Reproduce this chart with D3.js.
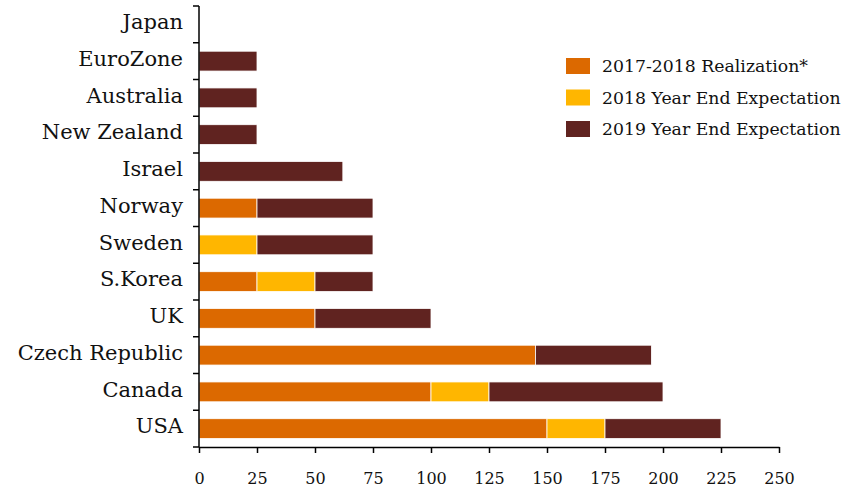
<!DOCTYPE html>
<html>
<head>
<meta charset="utf-8">
<script src="https://cdn.jsdelivr.net/npm/d3@7"></script>
<style>
  body { margin: 0; background: #fff; }
  text { font-family: "DejaVu Serif", "Liberation Serif", serif; fill: #111; }
</style>
</head>
<body>
<div id="chart"></div>
<script>
var width = 853,
    height = 496;

// data, top row first
var countries = ["Japan", "EuroZone", "Australia", "New Zealand", "Israel", "Norway",
  "Sweden", "S.Korea", "UK", "Czech Republic", "Canada", "USA"];
var realization = [0, 0, 0, 0, 0, 25, 0, 25, 50, 145, 100, 150];
var expect2018 = [0, 0, 0, 0, 0, 0, 25, 25, 0, 0, 25, 25];
var expect2019 = [0, 25, 25, 25, 62, 50, 50, 25, 50, 50, 75, 50];
var seriesNames = ["2017-2018 Realization*", "2018 Year End Expectation", "2019 Year End Expectation"];
var seriesColors = ["#dc6900", "#ffb600", "#602320"];
var xTicks = [0, 25, 50, 75, 100, 125, 150, 175, 200, 225, 250];

var svg = d3.select('#chart').append('svg')
    .attr('width', width)
    .attr('height', height);

var mLeft = 199, mRight = 779, mTop = 6, mBottom = 447;

let scaleX = d3.scaleLinear().domain([0, 250]).range([mLeft, mRight]);
let scaleY = d3.scaleBand().domain(countries).range([mTop, mBottom]).padding(0);
let barH = scaleY.bandwidth() * 0.54;

// stack the three series
let rows = countries.map((c, i) => {
    return {country: c, vals: [realization[i], expect2018[i], expect2019[i]]};
});
let segs = [];
rows.forEach(r => {
    let x0 = 0;
    r.vals.forEach((v, k) => {
        if (v > 0) segs.push({country: r.country, x0: x0, x1: x0 + v, k: k});
        x0 += v;
    });
});

svg.append('g').selectAll('rect').data(segs).enter()
    .append('rect')
    .attr('x', d => scaleX(d.x0))
    .attr('width', d => scaleX(d.x1) - scaleX(d.x0))
    .attr('y', d => scaleY(d.country) + (scaleY.bandwidth() - barH) / 2)
    .attr('height', barH)
    .attr('fill', d => seriesColors[d.k])
    .attr('stroke', '#fff')
    .attr('stroke-width', 0.8);

// y axis: labels at band centers, ticks on band boundaries
let yAxis = svg.append('g').attr('transform', 'translate(' + mLeft + ',0)')
    .call(d3.axisLeft(scaleY).tickSize(0).tickPadding(16));
yAxis.select('.domain').remove();
yAxis.selectAll('text')
    .attr('font-size', 21)
    .attr('dy', '0.22em')
    .style('font-family', '"DejaVu Serif", serif');

let bounds = countries.map(c => scaleY(c)).concat([mBottom]);
let yt = svg.append('g');
yt.append('line')
    .attr('x1', mLeft).attr('x2', mLeft)
    .attr('y1', mTop).attr('y2', mBottom)
    .attr('stroke', '#000').attr('stroke-width', 1.5);
yt.selectAll('.btick').data(bounds).enter()
    .append('line')
    .attr('class', 'btick')
    .attr('x1', mLeft - 6).attr('x2', mLeft)
    .attr('y1', d => d).attr('y2', d => d)
    .attr('stroke', '#000').attr('stroke-width', 1.5);

// x axis
let xAxis = svg.append('g').attr('transform', 'translate(0,' + mBottom + ')')
    .call(d3.axisBottom(scaleX).tickValues(xTicks).tickSize(6).tickPadding(20).tickSizeOuter(0));
xAxis.select('.domain').attr('stroke', '#000').attr('stroke-width', 1.5);
xAxis.selectAll('.tick line').attr('stroke', '#000').attr('stroke-width', 1.5);
xAxis.selectAll('text')
    .attr('font-size', 16)
    .style('font-family', '"DejaVu Serif", serif');

// legend
let legend = svg.append('g').attr('transform', 'translate(566,58)');
let li = legend.selectAll('.li').data(seriesNames).enter()
    .append('g')
    .attr('class', 'li')
    .attr('transform', (d, i) => 'translate(0,' + (i * 31.5) + ')');
li.append('rect')
    .attr('width', 24).attr('height', 16)
    .attr('fill', (d, i) => seriesColors[i]);
li.append('text')
    .attr('x', 36).attr('y', 14)
    .attr('font-size', 17.3)
    .text(d => d);
</script>
</body>
</html>
